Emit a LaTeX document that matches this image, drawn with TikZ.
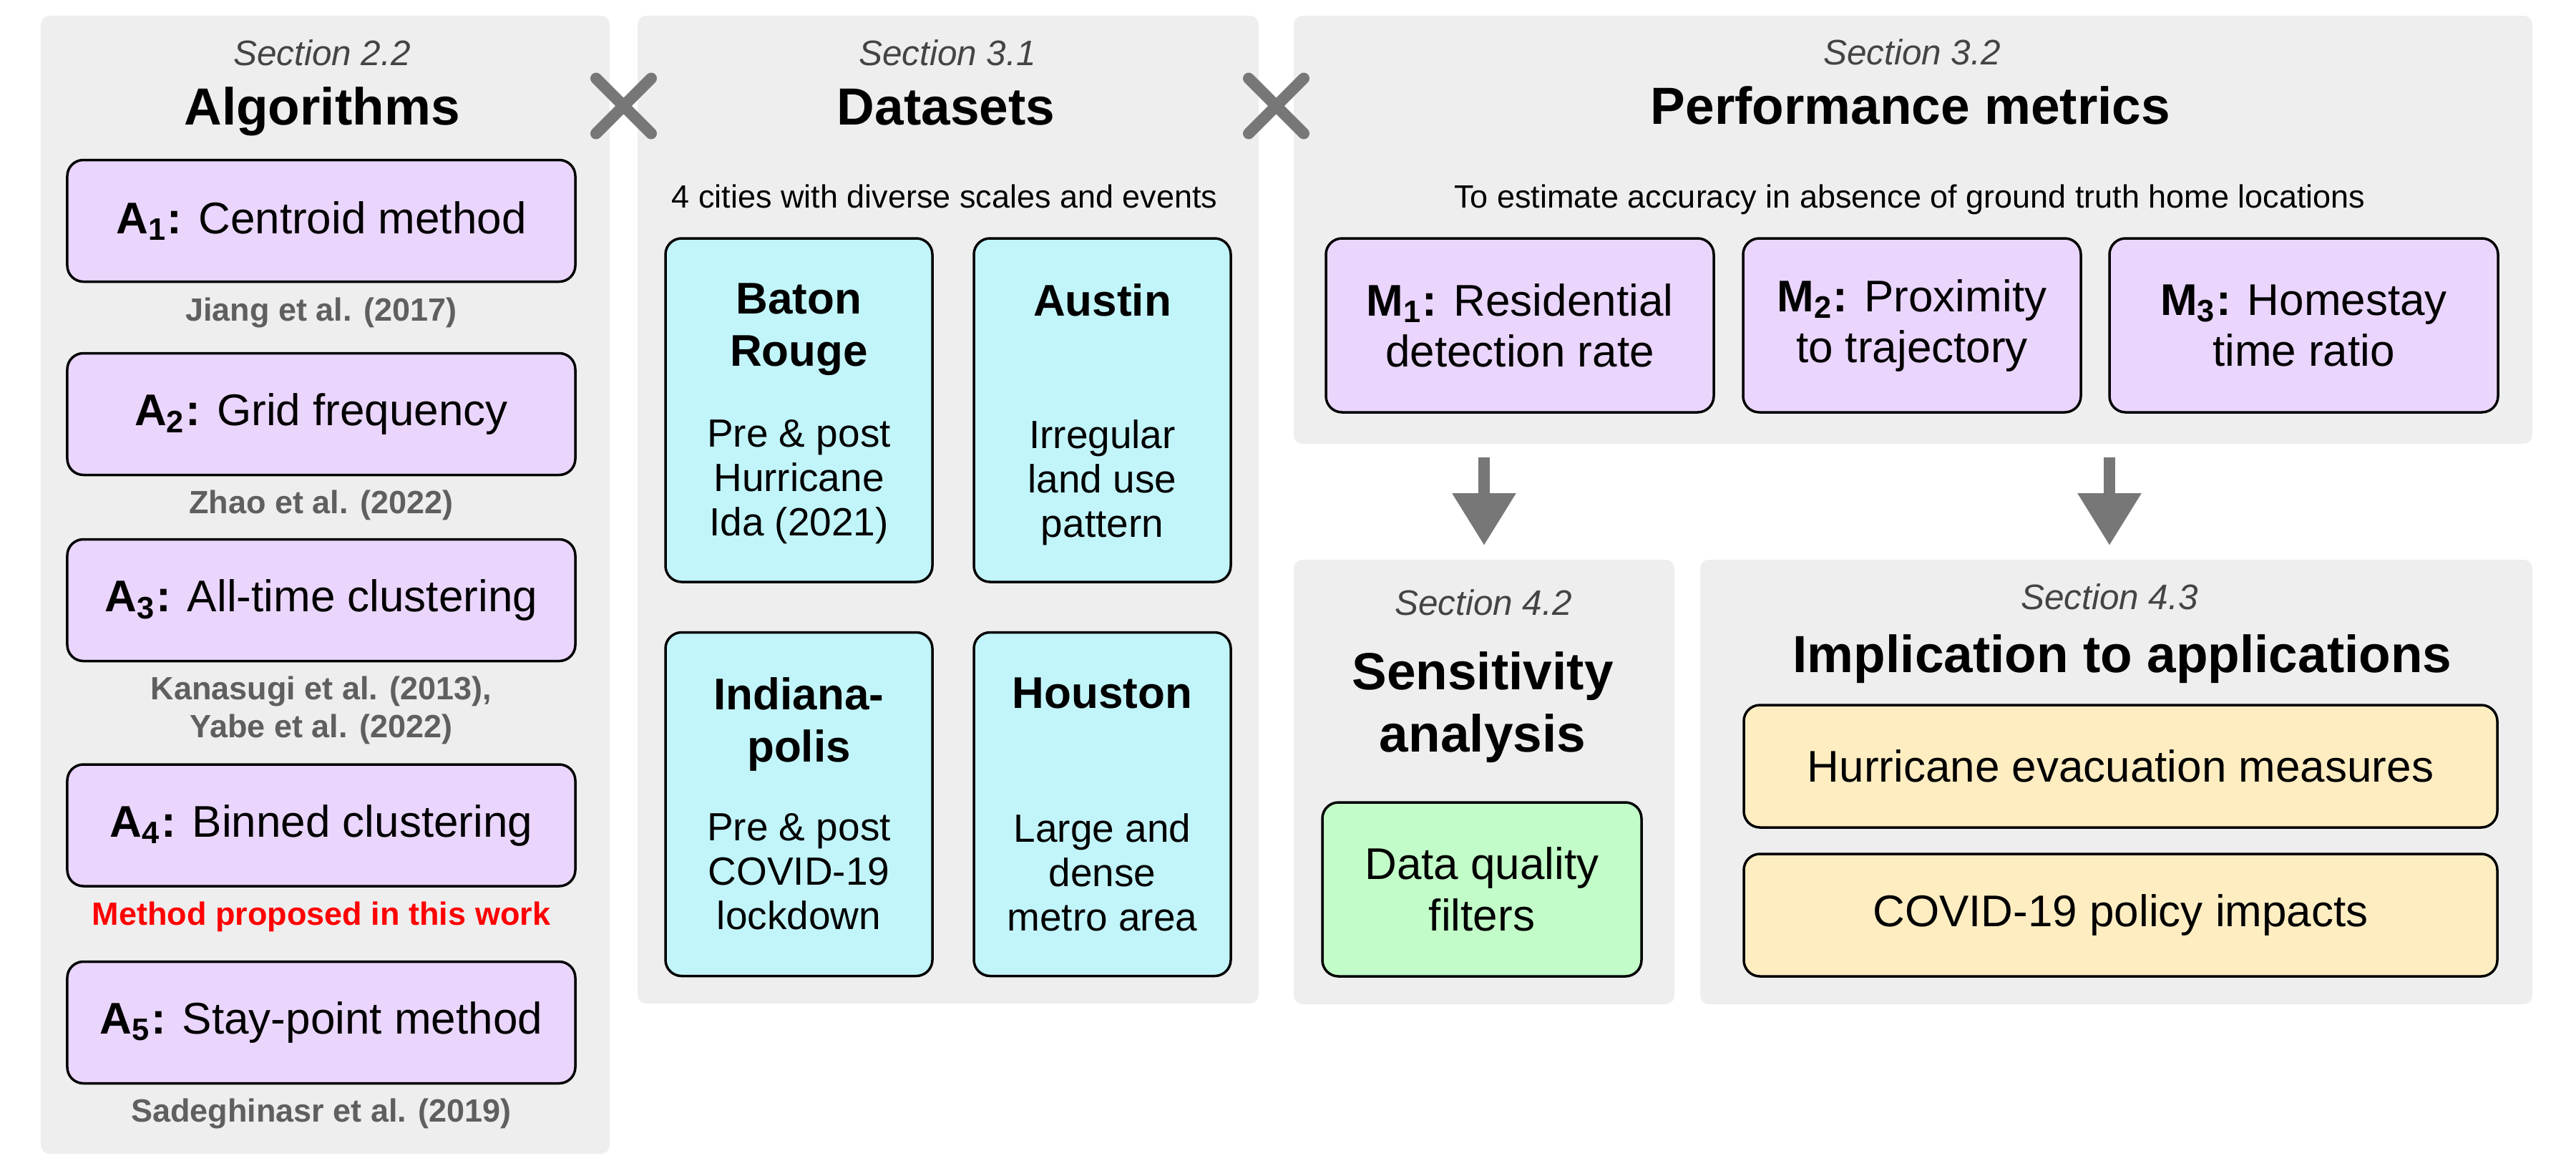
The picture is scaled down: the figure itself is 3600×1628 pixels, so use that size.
\documentclass[tikz,border=0pt]{standalone}
\usepackage{fontspec}
\setmainfont{Liberation Sans}
\usetikzlibrary{positioning,arrows.meta,shapes.misc}

\definecolor{panelgray}{HTML}{EEEEEE}
\definecolor{algopurple}{HTML}{EAD5FC}
\definecolor{citycyan}{HTML}{C2F5FA}
\definecolor{filtergreen}{HTML}{C2FCC8}
\definecolor{appyellow}{HTML}{FFEDC2}
\definecolor{citegray}{HTML}{5F5F5F}
\definecolor{secgray}{HTML}{444444}
\definecolor{arrowgray}{HTML}{777777}

\tikzset{
  panel/.style={fill=panelgray,rounded corners=2.4pt,inner sep=0pt},
  box/.style={draw=black,line width=0.7pt,rounded corners=4.5pt,inner sep=0pt,align=center,
    font=\fontsize{12.4}{14.2}\selectfont},
  algobox/.style={box,fill=algopurple,minimum width=142pt,minimum height=34pt},
  metricbox/.style={box,fill=algopurple,minimum height=48.6pt},
  citybox/.style={box,fill=citycyan,minimum height=96pt},
  appbox/.style={box,fill=appyellow,minimum width=210.6pt,minimum height=34.2pt},
  sectext/.style={font=\fontsize{9.9}{12}\selectfont\itshape,text=secgray,anchor=base,inner sep=0pt},
  titletext/.style={font=\fontsize{14.6}{17.4}\selectfont\bfseries,anchor=base,align=center,inner sep=0pt},
  subtext/.style={font=\fontsize{9}{11}\selectfont,anchor=base,inner sep=0pt},
  citetext/.style={font=\fontsize{9}{10.6}\selectfont\bfseries,text=citegray,align=center,inner sep=0pt},
  cityname/.style={font=\fontsize{12.4}{14.6}\selectfont\bfseries,align=center,anchor=north,inner sep=0pt},
  citybody/.style={font=\fontsize{11}{12.4}\selectfont,align=center,anchor=north,inner sep=0pt},
  crossmark/.style={cross out,draw=arrowgray,line width=3.2pt,line cap=round,minimum size=12.2pt,inner sep=0pt},
  bigarrow/.style={arrowgray,line width=3.2pt,-{Triangle[width=17pt,length=14.6pt]},
    shorten <=3.6pt,shorten >=3.8pt}
}

\begin{document}
\begin{tikzpicture}[x=0.2pt,y=-0.2pt]
\useasboundingbox (0,0) rectangle (3600,1628);

% panels
\node[panel,minimum width=159pt,minimum height=318pt] (alg) at (454.5,817) {};
\node[panel,minimum width=173.6pt,minimum height=276pt] (data) at (1325,712) {};
\node[panel,minimum width=346.2pt,minimum height=119.6pt] (perf) at (2673.5,321) {};
\node[panel,minimum width=106.4pt,minimum height=124.2pt] (sens) at (2074,1092.5) {};
\node[panel,minimum width=232.6pt,minimum height=124.2pt] (impl) at (2957.5,1092.5) {};

\node[crossmark] (cross1) at (871.5,148) {};
\node[crossmark] (cross2) at (1783.5,148) {};

% algorithms
\node[sectext] (sec22) at (450,91.5) {Section 2.2};
\node[titletext] (algtitle) at (450,174) {Algorithms};
\node[algobox] (a1) at (449,308.5) {\textbf{A\textsubscript{1}:} Centroid method};
\node[citetext] (cite1) at (449,437) {Jiang et al. (2017)};
\node[algobox] (a2) at (449,578.5) {\textbf{A\textsubscript{2}:} Grid frequency};
\node[citetext] (cite2) at (449,706) {Zhao et al. (2022)};
\node[algobox] (a3) at (449,838.5) {\textbf{A\textsubscript{3}:} All-time clustering};
\node[citetext] (cite3) at (449,992.5) {Kanasugi et al. (2013),\\Yabe et al. (2022)};
\node[algobox] (a4) at (449,1153) {\textbf{A\textsubscript{4}:} Binned clustering};
\node[citetext,text=red] (cite4) at (449,1281) {Method proposed in this work};
\node[algobox] (a5) at (449,1428.5) {\textbf{A\textsubscript{5}:} Stay-point method};
\node[citetext] (cite5) at (449,1556) {Sadeghinasr et al. (2019)};

% datasets
\node[sectext] (sec31) at (1324,91.5) {Section 3.1};
\node[titletext] (datatitle) at (1322,174) {Datasets};
\node[subtext] (datasub) at (1320,290) {4 cities with diverse scales and events};
\node[citybox,minimum width=74.6pt] (baton) at (1116.5,573) {};
\node[citybox,minimum width=71.8pt] (austin) at (1540.5,573) {};
\node[citybox,minimum width=74.6pt] (indy) at (1116.5,1123.5) {};
\node[citybox,minimum width=71.8pt] (houston) at (1540.5,1123.5) {};
\node[cityname] (batonname) at ([yshift=-12.8pt]baton.north) {Baton\\Rouge};
\node[citybody] (batonbody) at ([yshift=-50.8pt]baton.north) {Pre \& post\\Hurricane\\Ida (2021)};
\node[cityname] (austinname) at ([yshift=-12.8pt]austin.north) {Austin};
\node[citybody] (austinbody) at ([yshift=-50.8pt]austin.north) {Irregular\\land use\\pattern};
\node[cityname] (indyname) at ([yshift=-12.8pt]indy.north) {Indiana-\\polis};
\node[citybody] (indybody) at ([yshift=-50.8pt]indy.north) {Pre \& post\\COVID-19\\lockdown};
\node[cityname] (houstonname) at ([yshift=-12.8pt]houston.north) {Houston};
\node[citybody] (houstonbody) at ([yshift=-50.8pt]houston.north) {Large and\\dense\\metro area};

% metrics
\node[sectext] (sec32) at (2672,90) {Section 3.2};
\node[titletext] (perftitle) at (2670,173) {Performance metrics};
\node[subtext] (perfsub) at (2669,290) {To estimate accuracy in absence of ground truth home locations};
\node[metricbox,minimum width=108.4pt] (m1) at (2124,454.5) {\textbf{M\textsubscript{1}:} Residential\\detection rate};
\node[metricbox,minimum width=94.4pt] (m2) at (2672,454.5) {\textbf{M\textsubscript{2}:} Proximity\\to trajectory};
\node[metricbox,minimum width=108.6pt] (m3) at (3219.5,454.5) {\textbf{M\textsubscript{3}:} Homestay\\time ratio};

% sensitivity and applications
\node[sectext] (sec42) at (2073,859) {Section 4.2};
\node[titletext,anchor=center] (senstitle) at (2072,988) {Sensitivity\\analysis};
\node[box,fill=filtergreen,minimum width=89.2pt,minimum height=48.6pt,font=\fontsize{12.4}{14.4}\selectfont] (filters) at (2071,1242.5) {Data quality\\filters};
\node[sectext] (sec43) at (2948,851.5) {Section 4.3};
\node[titletext] (impltitle) at (2966,939) {Implication to applications};
\node[appbox] (hurricane) at (2963.5,1070.5) {Hurricane evacuation measures};
\node[appbox] (covid) at (2963.5,1278.5) {COVID-19 policy impacts};

\draw[bigarrow] (perf.south -| sens.north) -- (sens.north);
\draw[bigarrow] (perf.south -| sec43) -- (impl.north -| sec43);
\end{tikzpicture}
\end{document}
